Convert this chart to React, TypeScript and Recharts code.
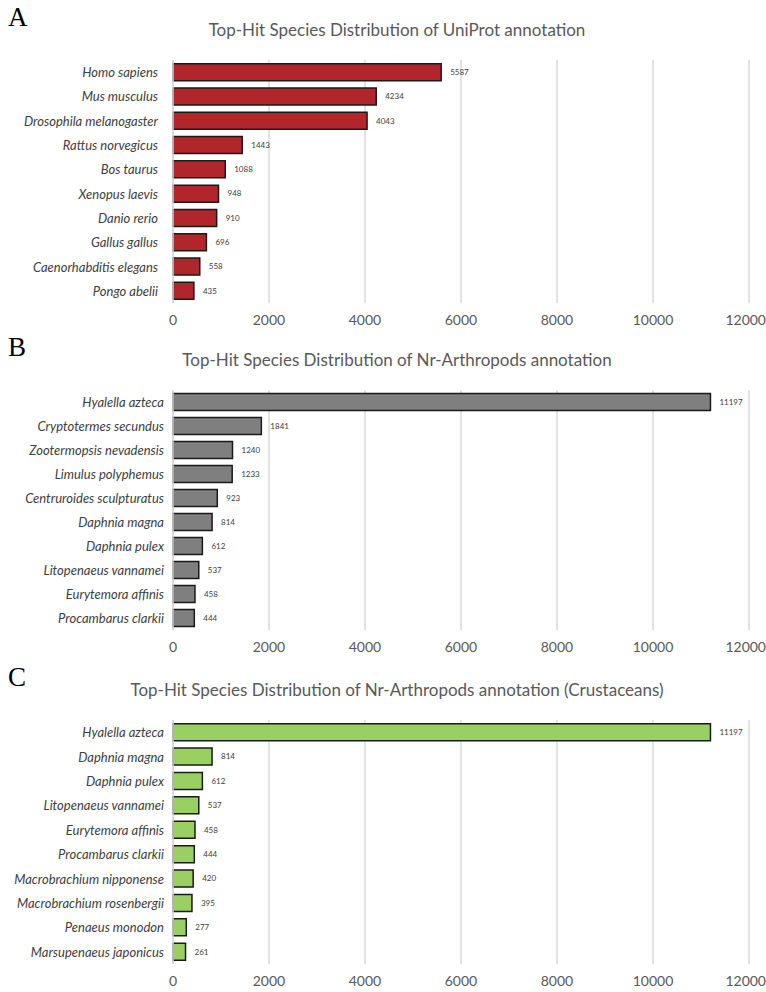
import { BarChart, Bar, XAxis, YAxis, CartesianGrid, LabelList } from "recharts"

const uniprotSpecies = [
  "Homo sapiens",
  "Mus musculus",
  "Drosophila melanogaster",
  "Rattus norvegicus",
  "Bos taurus",
  "Xenopus laevis",
  "Danio rerio",
  "Gallus gallus",
  "Caenorhabditis elegans",
  "Pongo abelii",
]
const uniprotCounts = [5587, 4234, 4043, 1443, 1088, 948, 910, 696, 558, 435]

const arthropodSpecies = [
  "Hyalella azteca",
  "Cryptotermes secundus",
  "Zootermopsis nevadensis",
  "Limulus polyphemus",
  "Centruroides sculpturatus",
  "Daphnia magna",
  "Daphnia pulex",
  "Litopenaeus vannamei",
  "Eurytemora affinis",
  "Procambarus clarkii",
]
const arthropodCounts = [11197, 1841, 1240, 1233, 923, 814, 612, 537, 458, 444]

const crustaceanSpecies = [
  "Hyalella azteca",
  "Daphnia magna",
  "Daphnia pulex",
  "Litopenaeus vannamei",
  "Eurytemora affinis",
  "Procambarus clarkii",
  "Macrobrachium nipponense",
  "Macrobrachium rosenbergii",
  "Penaeus monodon",
  "Marsupenaeus japonicus",
]
const crustaceanCounts = [11197, 814, 612, 537, 458, 444, 420, 395, 277, 261]

const xTicks = [0, 2000, 4000, 6000, 8000, 10000, 12000]

const FONT = "Lato, 'Open Sans', sans-serif"

type PanelProps = {
  letter: string
  title: string
  species: string[]
  counts: number[]
  color: string
  height: number
  plotHeight: number
  labelGap: number
}

function Panel({ letter, title, species, counts, color, height, plotHeight, labelGap }: PanelProps) {
  const data = species.map((name, i) => ({ name, value: counts[i] }))

  // species names: italic, one line, right-aligned next to the axis
  const speciesTick = (props: any) => (
    <text
      x={props.x - labelGap}
      y={props.y}
      dy={5}
      textAnchor="end"
      fontFamily={FONT}
      fontSize={13}
      fontStyle="italic"
      fill="#404040"
    >
      {props.payload.value}
    </text>
  )

  return (
    <div style={{ position: "relative", width: 766, height }}>
      <div
        style={{
          position: "absolute",
          left: 8,
          top: 2,
          fontFamily: "'Liberation Serif', 'DejaVu Serif', serif",
          fontSize: 27,
          color: "#000",
        }}
      >
        {letter}
      </div>
      <div
        style={{
          position: "absolute",
          left: 0,
          width: 794,
          top: 19,
          textAlign: "center",
          fontFamily: FONT,
          fontSize: 17,
          color: "#595959",
        }}
      >
        {title}
      </div>
      <div style={{ position: "absolute", left: 0, top: 0 }}>
        <BarChart
          width={766}
          height={60 + plotHeight + 26}
          data={data}
          layout="vertical"
          margin={{ top: 60, right: 17, bottom: 0, left: 0 }}
          barCategoryGap="15%"
        >
          <CartesianGrid horizontal={false} stroke="#d9d9d9" strokeWidth={1.5} />
          <XAxis
            type="number"
            domain={[0, 12000]}
            ticks={xTicks}
            axisLine={false}
            tickLine={false}
            tickSize={0}
            tickMargin={12}
            height={26}
            tick={{ fontFamily: FONT, fontSize: 14, fill: "#595959" }}
          />
          <YAxis
            type="category"
            dataKey="name"
            width={173}
            axisLine={{ stroke: "#d9d9d9", strokeWidth: 1.5 }}
            tickLine={false}
            tickSize={0}
            interval={0}
            tick={speciesTick}
          />
          <Bar dataKey="value" fill={color} stroke="#1a1a1a" strokeWidth={1.5} isAnimationActive={false}>
            <LabelList
              dataKey="value"
              position="right"
              offset={9}
              style={{ fontFamily: FONT, fontSize: 8, fill: "#404040" }}
            />
          </Bar>
        </BarChart>
      </div>
    </div>
  )
}

export default function App() {
  return (
    <div
      style={{
        position: "absolute",
        left: 0,
        top: 0,
        width: 766,
        height: 992,
        background: "#fff",
        overflow: "hidden",
      }}
    >
      <Panel
        letter="A"
        title="Top-Hit Species Distribution of UniProt annotation"
        species={uniprotSpecies}
        counts={uniprotCounts}
        color="#B0262A"
        height={330}
        plotHeight={243}
        labelGap={13}
      />
      <Panel
        letter="B"
        title="Top-Hit Species Distribution of Nr-Arthropods annotation"
        species={arthropodSpecies}
        counts={arthropodCounts}
        color="#7F7F7F"
        height={330}
        plotHeight={240}
        labelGap={7}
      />
      <Panel
        letter="C"
        title="Top-Hit Species Distribution of Nr-Arthropods annotation (Crustaceans)"
        species={crustaceanSpecies}
        counts={crustaceanCounts}
        color="#9ACF63"
        height={332}
        plotHeight={244}
        labelGap={7}
      />
    </div>
  )
}
